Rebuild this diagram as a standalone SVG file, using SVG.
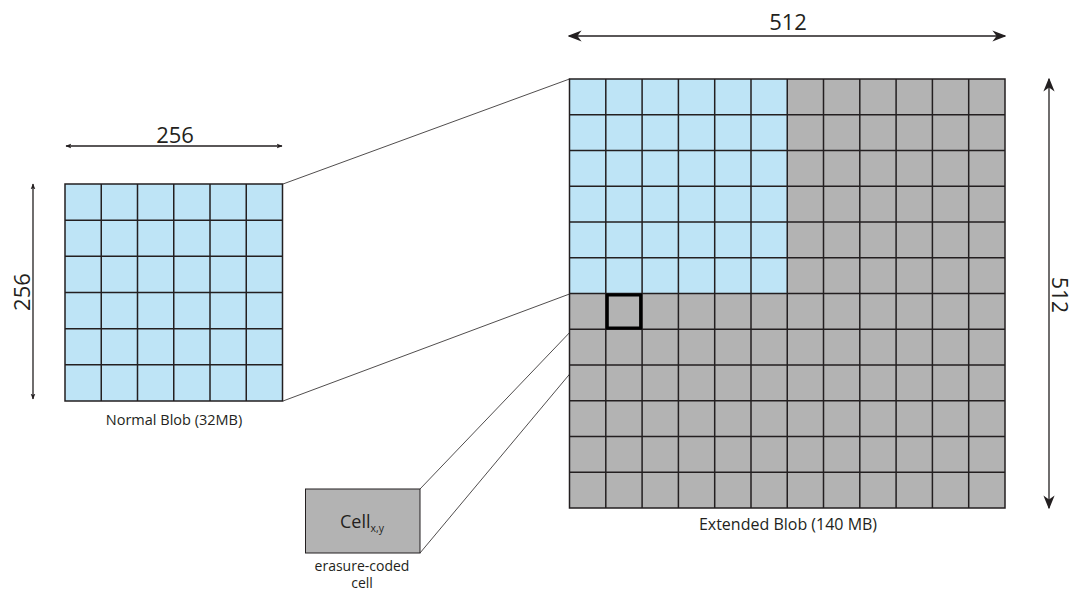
<svg xmlns="http://www.w3.org/2000/svg" width="1075" height="590" viewBox="0 0 1075 590">
<style>
text{font-family:"Open Sans","Liberation Sans",sans-serif;fill:#231f20}
.grid{stroke:#231f20;stroke-width:1.5;fill:none}
.blue{fill:#bee4f6}
.grey{fill:#b3b3b3}
.thin{stroke:#231f20;stroke-width:0.8;fill:none}
.dim{stroke:#231f20;stroke-width:1.3;fill:none}
</style>
<defs>
<marker id="ah" viewBox="0 0 10 10" refX="9" refY="5" markerWidth="6" markerHeight="6" orient="auto-start-reverse" markerUnits="userSpaceOnUse">
<path d="M0 1L10 5L0 9L2.5 5Z" fill="#231f20"/>
</marker>
<marker id="ahb" viewBox="0 0 10 10" refX="9" refY="5" markerWidth="14" markerHeight="14" orient="auto-start-reverse" markerUnits="userSpaceOnUse">
<path d="M0 1L10 5L0 9L3 5Z" fill="#231f20"/>
</marker>
</defs>

<g id="connectors">
<line class="thin" x1="283" y1="184" x2="569.5" y2="79"/>
<line class="thin" x1="283" y1="401" x2="569.5" y2="294"/>
<line class="thin" x1="606.5" y1="294" x2="420" y2="489"/>
<line class="thin" x1="606.5" y1="330" x2="420" y2="553"/>
<line class="dim" x1="66" y1="146" x2="282" y2="146" marker-start="url(#ah)" marker-end="url(#ah)"/>
<line class="dim" x1="33" y1="184" x2="33" y2="399" marker-start="url(#ah)" marker-end="url(#ah)"/>
<line class="dim" x1="569" y1="36" x2="1005" y2="36" marker-start="url(#ahb)" marker-end="url(#ahb)"/>
<line class="dim" x1="1049" y1="79" x2="1049" y2="508" marker-start="url(#ahb)" marker-end="url(#ahb)"/>
</g>

<g id="normal-blob">
<rect class="blue" x="65" y="184" width="217.5" height="217"/>
<path class="grid" d="M101.25 184V401M137.5 184V401M173.75 184V401M210 184V401M246.25 184V401M65 220.2H282.5M65 256.3H282.5M65 292.5H282.5M65 328.7H282.5M65 364.8H282.5"/>
<rect class="grid" x="65" y="184" width="217.5" height="217"/>
<text x="175" y="143" font-size="22" text-anchor="middle">256</text>
<text transform="translate(30 292) rotate(-90)" font-size="22" text-anchor="middle">256</text>
<text x="174" y="425" font-size="14.5" text-anchor="middle">Normal Blob (32MB)</text>
</g>

<g id="extended-blob">
<rect class="grey" x="569.5" y="79" width="435.5" height="429"/>
<rect class="blue" x="569.5" y="79" width="217.75" height="214.5"/>
<path class="grid" d="M605.8 79V508M642.1 79V508M678.4 79V508M714.7 79V508M751 79V508M787.25 79V508M823.5 79V508M859.8 79V508M896.1 79V508M932.4 79V508M968.7 79V508M569.5 114.75H1005M569.5 150.5H1005M569.5 186.25H1005M569.5 222H1005M569.5 257.75H1005M569.5 293.5H1005M569.5 329.25H1005M569.5 365H1005M569.5 400.75H1005M569.5 436.5H1005M569.5 472.25H1005"/>
<rect class="grid" x="569.5" y="79" width="435.5" height="429"/>
<rect x="607.3" y="295" width="33.3" height="33" fill="none" stroke="#000" stroke-width="3"/>
<text x="788" y="30" font-size="22" text-anchor="middle">512</text>
<text transform="translate(1052 295) rotate(90)" font-size="21" text-anchor="middle">512</text>
<text x="788" y="530" font-size="16" text-anchor="middle">Extended Blob (140 MB)</text>
</g>

<g id="cell">
<rect x="305.5" y="489" width="114.5" height="64" fill="#b3b3b3" stroke="#231f20" stroke-width="1"/>
<text x="362" y="528" font-size="18" text-anchor="middle">Cell<tspan font-size="10.5" dy="4">x,y</tspan></text>
<text x="362" y="571" font-size="14" text-anchor="middle">erasure-coded</text>
<text x="362" y="588" font-size="14" text-anchor="middle">cell</text>
</g>
</svg>
